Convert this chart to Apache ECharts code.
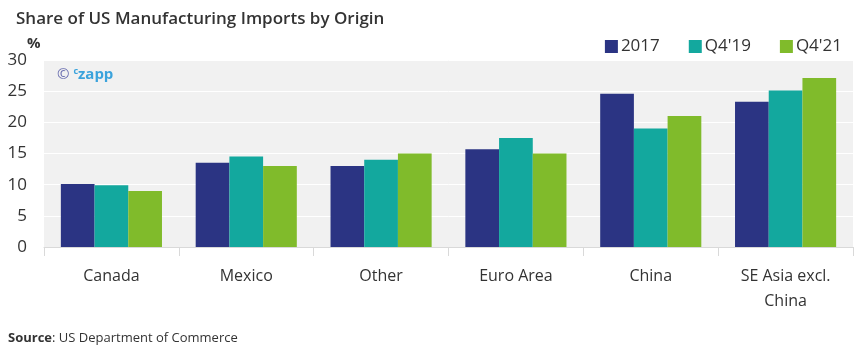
<!DOCTYPE html>
<html><head><meta charset="utf-8">
<script src="https://cdn.jsdelivr.net/npm/echarts@6/dist/echarts.min.js"></script>
<style>html,body{margin:0;padding:0;background:#fff}#c{width:865px;height:357px}</style>
</head><body><div id="c"></div>
<script>
const categories = ['Canada','Mexico','Other','Euro Area','China','SE Asia excl.\nChina'];
const s2017 = [10.1, 13.5, 13.0, 15.7, 24.6, 23.3];
const sQ419 = [9.9, 14.5, 14.0, 17.5, 19.0, 25.1];
const sQ421 = [9.0, 13.0, 15.0, 15.0, 21.0, 27.1];
const yTicks = [0, 5, 10, 15, 20, 25, 30];
const seriesNames = ['2017', "Q4'19", "Q4'21"];
const colors = ['#2b3483', '#13a89e', '#80bb2b'];
const FONT = '"Open Sans", "Noto Sans", sans-serif';

const chart = echarts.init(document.getElementById('c'), null, {renderer: 'canvas'});
const mk = (name, data, i) => ({
  name, type: 'bar', data, barGap: '0%', barCategoryGap: '25%',
  itemStyle: {color: colors[i]}, emphasis: {disabled: true}
});
chart.setOption({
  animation: false,
  textStyle: {fontFamily: FONT},
  title: {
    text: 'Share of US Manufacturing Imports by Origin',
    left: 11, top: 6,
    textStyle: {fontFamily: FONT, fontSize: 17, fontWeight: 600, color: '#333'}
  },
  legend: {
    data: seriesNames, right: 18, top: 33,
    itemWidth: 13, itemHeight: 13, itemGap: 29,
    icon: 'rect',
    textStyle: {fontFamily: FONT, fontSize: 17, color: '#333', padding: [0, 0, 0, -2]}
  },
  grid: {
    left: 44, right: 12, top: 60, bottom: 110,
    show: true, backgroundColor: '#f1f1f1', borderWidth: 0
  },
  xAxis: {
    type: 'category', data: categories,
    axisLine: {lineStyle: {color: '#d9d9d9'}},
    axisTick: {show: true, length: 9, lineStyle: {color: '#d9d9d9'}},
    axisLabel: {fontFamily: FONT, fontSize: 16, color: '#333', margin: 17, lineHeight: 25}
  },
  yAxis: {
    type: 'value', min: yTicks[0], max: yTicks[yTicks.length - 1], interval: 5,
    axisLine: {show: false}, axisTick: {show: false},
    splitLine: {lineStyle: {color: '#ffffff', width: 1}},
    axisLabel: {fontFamily: FONT, fontSize: 17, color: '#333', margin: 17}
  },
  graphic: [
    {type: 'text', left: 27, top: 36, style: {text: '%', font: 'bold 15px ' + FONT, fill: '#333'}},
    {type: 'text', left: 57, top: 67, style: {
      rich: {
        a: {fontFamily: FONT, fontSize: 15, fill: '#6b6fb0'},
        c: {fontFamily: FONT, fontSize: 9, fontWeight: 'bold', fill: '#3ba3dc', verticalAlign: 'top', padding: [0, 0, 6, 0]},
        z: {fontFamily: FONT, fontSize: 15, fontWeight: 'bold', fill: '#3ba3dc'}
      },
      text: '{a|© }{c|c}{z|zapp}'
    }},
    {type: 'text', left: 8, top: 332, style: {
      rich: {
        b: {fontFamily: FONT, fontSize: 13, fontWeight: 'bold', fill: '#333'},
        n: {fontFamily: FONT, fontSize: 13, fill: '#333'}
      },
      text: '{b|Source}{n|: US Department of Commerce}'
    }}
  ],
  series: [mk(seriesNames[0], s2017, 0), mk(seriesNames[1], sQ419, 1), mk(seriesNames[2], sQ421, 2)]
});
</script></body></html>
